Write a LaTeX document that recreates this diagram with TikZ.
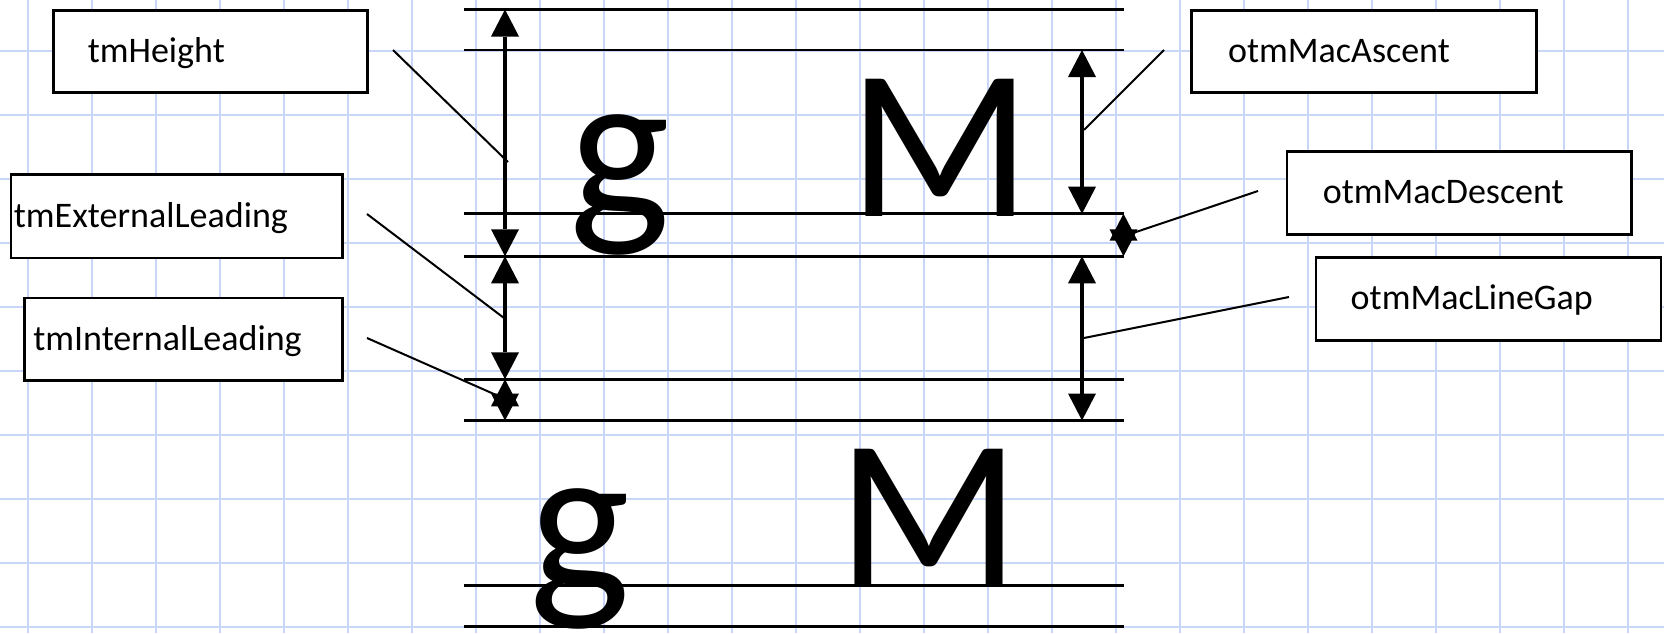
\documentclass[tikz,border=0pt]{standalone}
\usepackage{fontspec}
\setmainfont{Carlito}
\usetikzlibrary{arrows.meta}
\definecolor{gridblue}{RGB}{201,214,248}
\begin{document}
\begin{tikzpicture}[x=1pt,y=-1pt,
  gridline/.style={draw=gridblue,line width=2pt},
  rule/.style={line width=2.5pt},
  dimarrow/.style={line width=4pt,
    {Triangle[width=28pt,length=27pt,line width=0pt]}-{Triangle[width=28pt,length=27pt,line width=0pt]}},
  leader/.style={line width=2pt},
  labelbox/.style={draw,line width=2.6pt,fill=white,anchor=north west,
    inner ysep=0pt,text height=22pt,text depth=0pt,align=left,
    font=\fontsize{36}{40}\selectfont},
  glyphnode/.style={inner sep=0pt,anchor=base,font=\fontsize{214}{214}\selectfont}
]
\useasboundingbox (0,0) rectangle (1664,633);
\fill[white] (0,0) rectangle (1664,633);
\clip (0,0) rectangle (1664,633);
% grid
\foreach \i in {0,...,25} \draw[gridline] (28+64*\i,0) -- (28+64*\i,633);
\foreach \j in {0,...,9} \draw[gridline] (0,51+64*\j) -- (1664,51+64*\j);
% rule line end points
\foreach \n/\y in {1/9.5,2/50,3/213.7,4/256.3,5/379.3,6/420.5,7/585.7,8/626.5}{
  \coordinate (r\n w) at (464,\y);
  \coordinate (r\n e) at (1123.5,\y);
}
\foreach \n in {1,...,8} \draw[rule] (r\n w) -- (r\n e);
% big glyphs
\node[glyphnode] (g1) at (620,218.5) {g};
\node[glyphnode] (M1) at (940,216.5) {M};
\node[glyphnode] (g2) at (580,592) {g};
\node[glyphnode] (M2) at (929,586.5) {M};
% dimension arrows
\coordinate (aL1) at (505,9.5);
\coordinate (aL4) at (505,256.3);
\coordinate (aL5) at (505,379.3);
\coordinate (aL6) at (505,420.5);
\coordinate (aR2) at (1082,50);
\coordinate (aR3) at (1082,213.7);
\coordinate (aR4) at (1082,256.3);
\coordinate (aR6) at (1082,420.5);
\coordinate (sR3) at (1123.5,213.7);
\coordinate (sR4) at (1123.5,256.3);
\draw[dimarrow] (aL1) -- (aL4);
\draw[dimarrow] (aL4) -- (aL5);
\draw[dimarrow] (aL5) -- (aL6);
\draw[dimarrow] (aR2) -- (aR3);
\draw[dimarrow] (sR3) -- (sR4);
\draw[dimarrow] (aR4) -- (aR6);
% label boxes
\node[labelbox,minimum height=82pt,inner xsep=34.5pt,text width=245pt] (bH) at (52,9.3) {tmHeight};
\node[labelbox,minimum height=83.4pt,inner xsep=3pt,text width=325.4pt] (bE) at (9.6,173.3) {tmExternalLeading};
\node[labelbox,minimum height=82.6pt,inner xsep=9pt,text width=300pt] (bI) at (23,296.7) {tmInternalLeading};
\node[labelbox,minimum height=82pt,inner xsep=36.4pt,text width=272.2pt] (bA) at (1190.4,9.3) {otmMacAscent};
\node[labelbox,minimum height=83.3pt,inner xsep=36pt,text width=272.5pt] (bD) at (1285.5,150) {otmMacDescent};
\node[labelbox,minimum height=83pt,inner xsep=34.8pt,text width=275.4pt] (bG) at (1314.6,256) {otmMacLineGap};
% leader lines
\coordinate (lH) at (393,50);   \coordinate (tH) at (508,162);
\coordinate (lE) at (367,214);  \coordinate (tE) at (504,318);
\coordinate (lI) at (367,338);  \coordinate (tI) at (503,398);
\coordinate (lA) at (1164,50);  \coordinate (tA) at (1084,130);
\coordinate (lD) at (1258,191); \coordinate (tD) at (1124,236);
\coordinate (lG) at (1289,297); \coordinate (tG) at (1084,338);
\draw[leader] (lH) -- (tH);
\draw[leader] (lE) -- (tE);
\draw[leader] (lI) -- (tI);
\draw[leader] (lA) -- (tA);
\draw[leader] (lD) -- (tD);
\draw[leader] (lG) -- (tG);
\end{tikzpicture}
\end{document}
